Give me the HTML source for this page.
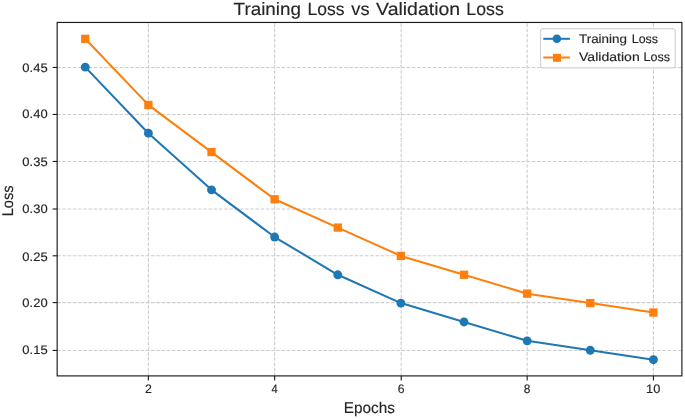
<!DOCTYPE html>
<html><head><meta charset="utf-8"><style>
html,body{margin:0;padding:0;background:#fff;}
body{width:685px;height:419px;overflow:hidden;}
svg{display:block;will-change:transform;}
text{text-rendering:geometricPrecision;font-family:"Liberation Sans", sans-serif;fill:#262626;stroke:#262626;stroke-width:0.15px;}
</style></head><body>
<svg width="685" height="419" viewBox="0 0 685 419">
<rect x="0" y="0" width="685" height="419" fill="#fff"/>
<line x1="148.38" y1="375.9" x2="148.38" y2="22.45" stroke="#cdcdcd" stroke-width="1.1" stroke-dasharray="3.642 1.575" stroke-dashoffset="0.6"/>
<line x1="274.63" y1="375.9" x2="274.63" y2="22.45" stroke="#cdcdcd" stroke-width="1.1" stroke-dasharray="3.642 1.575" stroke-dashoffset="0.6"/>
<line x1="401.20" y1="375.9" x2="401.20" y2="22.45" stroke="#cdcdcd" stroke-width="1.1" stroke-dasharray="3.642 1.575" stroke-dashoffset="0.6"/>
<line x1="527.15" y1="375.9" x2="527.15" y2="22.45" stroke="#cdcdcd" stroke-width="1.1" stroke-dasharray="3.642 1.575" stroke-dashoffset="0.6"/>
<line x1="653.45" y1="375.9" x2="653.45" y2="22.45" stroke="#cdcdcd" stroke-width="1.1" stroke-dasharray="3.642 1.575" stroke-dashoffset="0.6"/>
<line x1="57.15" y1="350.45" x2="681.9" y2="350.45" stroke="#cdcdcd" stroke-width="1.1" stroke-dasharray="3.642 1.575"/>
<line x1="57.15" y1="302.60" x2="681.9" y2="302.60" stroke="#cdcdcd" stroke-width="1.1" stroke-dasharray="3.642 1.575"/>
<line x1="57.15" y1="255.80" x2="681.9" y2="255.80" stroke="#cdcdcd" stroke-width="1.1" stroke-dasharray="3.642 1.575"/>
<line x1="57.15" y1="209.00" x2="681.9" y2="209.00" stroke="#cdcdcd" stroke-width="1.1" stroke-dasharray="3.642 1.575"/>
<line x1="57.15" y1="161.45" x2="681.9" y2="161.45" stroke="#cdcdcd" stroke-width="1.1" stroke-dasharray="3.642 1.575"/>
<line x1="57.15" y1="114.45" x2="681.9" y2="114.45" stroke="#cdcdcd" stroke-width="1.1" stroke-dasharray="3.642 1.575"/>
<line x1="57.15" y1="67.45" x2="681.9" y2="67.45" stroke="#cdcdcd" stroke-width="1.1" stroke-dasharray="3.642 1.575"/>
<polyline points="85.25,67.14 148.38,133.21 211.51,189.84 274.64,237.03 337.77,274.78 400.90,303.09 464.03,321.97 527.16,340.84 590.29,350.28 653.42,359.72" fill="none" stroke="#1f77b4" stroke-width="2.05" stroke-linejoin="round"/>
<circle cx="85.25" cy="67.14" r="4.45" fill="#1f77b4"/>
<circle cx="148.38" cy="133.21" r="4.45" fill="#1f77b4"/>
<circle cx="211.51" cy="189.84" r="4.45" fill="#1f77b4"/>
<circle cx="274.64" cy="237.03" r="4.45" fill="#1f77b4"/>
<circle cx="337.77" cy="274.78" r="4.45" fill="#1f77b4"/>
<circle cx="400.90" cy="303.09" r="4.45" fill="#1f77b4"/>
<circle cx="464.03" cy="321.97" r="4.45" fill="#1f77b4"/>
<circle cx="527.16" cy="340.84" r="4.45" fill="#1f77b4"/>
<circle cx="590.29" cy="350.28" r="4.45" fill="#1f77b4"/>
<circle cx="653.42" cy="359.72" r="4.45" fill="#1f77b4"/>
<polyline points="85.25,38.83 148.38,104.90 211.51,152.09 274.64,199.28 337.77,227.59 400.90,255.90 464.03,274.78 527.16,293.65 590.29,303.09 653.42,312.53" fill="none" stroke="#ff7f0e" stroke-width="2.05" stroke-linejoin="round"/>
<rect x="81.10" y="34.68" width="8.3" height="8.3" fill="#ff7f0e"/>
<rect x="144.23" y="100.75" width="8.3" height="8.3" fill="#ff7f0e"/>
<rect x="207.36" y="147.94" width="8.3" height="8.3" fill="#ff7f0e"/>
<rect x="270.49" y="195.13" width="8.3" height="8.3" fill="#ff7f0e"/>
<rect x="333.62" y="223.44" width="8.3" height="8.3" fill="#ff7f0e"/>
<rect x="396.75" y="251.75" width="8.3" height="8.3" fill="#ff7f0e"/>
<rect x="459.88" y="270.63" width="8.3" height="8.3" fill="#ff7f0e"/>
<rect x="523.01" y="289.50" width="8.3" height="8.3" fill="#ff7f0e"/>
<rect x="586.14" y="298.94" width="8.3" height="8.3" fill="#ff7f0e"/>
<rect x="649.27" y="308.38" width="8.3" height="8.3" fill="#ff7f0e"/>
<rect x="57.15" y="22.45" width="624.75" height="353.45" fill="none" stroke="#1a1a1a" stroke-width="1.15"/>
<line x1="148.38" y1="375.9" x2="148.38" y2="380.5" stroke="#1a1a1a" stroke-width="1.1"/>
<line x1="274.63" y1="375.9" x2="274.63" y2="380.5" stroke="#1a1a1a" stroke-width="1.1"/>
<line x1="401.20" y1="375.9" x2="401.20" y2="380.5" stroke="#1a1a1a" stroke-width="1.1"/>
<line x1="527.15" y1="375.9" x2="527.15" y2="380.5" stroke="#1a1a1a" stroke-width="1.1"/>
<line x1="653.45" y1="375.9" x2="653.45" y2="380.5" stroke="#1a1a1a" stroke-width="1.1"/>
<line x1="52.65" y1="350.45" x2="57.15" y2="350.45" stroke="#1a1a1a" stroke-width="1.1"/>
<line x1="52.65" y1="302.60" x2="57.15" y2="302.60" stroke="#1a1a1a" stroke-width="1.1"/>
<line x1="52.65" y1="255.80" x2="57.15" y2="255.80" stroke="#1a1a1a" stroke-width="1.1"/>
<line x1="52.65" y1="209.00" x2="57.15" y2="209.00" stroke="#1a1a1a" stroke-width="1.1"/>
<line x1="52.65" y1="161.45" x2="57.15" y2="161.45" stroke="#1a1a1a" stroke-width="1.1"/>
<line x1="52.65" y1="114.45" x2="57.15" y2="114.45" stroke="#1a1a1a" stroke-width="1.1"/>
<line x1="52.65" y1="67.45" x2="57.15" y2="67.45" stroke="#1a1a1a" stroke-width="1.1"/>
<text x="144.97" y="393.30" font-size="12.3" textLength="6.83" lengthAdjust="spacingAndGlyphs">2</text>
<text x="271.57" y="393.30" font-size="12.3" textLength="6.18" lengthAdjust="spacingAndGlyphs">4</text>
<text x="397.78" y="393.30" font-size="12.3" textLength="6.76" lengthAdjust="spacingAndGlyphs">6</text>
<text x="523.84" y="393.30" font-size="12.3" textLength="6.63" lengthAdjust="spacingAndGlyphs">8</text>
<text x="646.07" y="393.30" font-size="12.3" textLength="14.28" lengthAdjust="spacingAndGlyphs">10</text>
<text x="22.39" y="354.10" font-size="12.3" textLength="25.25" lengthAdjust="spacingAndGlyphs">0.15</text>
<text x="22.39" y="307.25" font-size="12.3" textLength="25.21" lengthAdjust="spacingAndGlyphs">0.20</text>
<text x="22.39" y="260.75" font-size="12.3" textLength="25.25" lengthAdjust="spacingAndGlyphs">0.25</text>
<text x="22.39" y="213.20" font-size="12.3" textLength="25.21" lengthAdjust="spacingAndGlyphs">0.30</text>
<text x="22.39" y="165.65" font-size="12.3" textLength="25.25" lengthAdjust="spacingAndGlyphs">0.35</text>
<text x="22.39" y="118.20" font-size="12.3" textLength="25.21" lengthAdjust="spacingAndGlyphs">0.40</text>
<text x="22.39" y="71.65" font-size="12.3" textLength="25.25" lengthAdjust="spacingAndGlyphs">0.45</text>
<text x="343.84" y="413.00" font-size="15.5" textLength="51.12" lengthAdjust="spacingAndGlyphs">Epochs</text>
<g transform="translate(12.9,215.4) rotate(-90)"><text x="-0.90" y="0.00" font-size="15.5" textLength="30.93" lengthAdjust="spacingAndGlyphs">Loss</text></g>
<text x="233.59" y="14.60" font-size="17.8" textLength="67.42" lengthAdjust="spacingAndGlyphs">Training</text>
<text x="307.56" y="14.60" font-size="17.8" textLength="36.97" lengthAdjust="spacingAndGlyphs">Loss</text>
<text x="351.33" y="14.60" font-size="17.8" textLength="18.23" lengthAdjust="spacingAndGlyphs">vs</text>
<text x="376.10" y="14.60" font-size="17.8" textLength="84.06" lengthAdjust="spacingAndGlyphs">Validation</text>
<text x="466.35" y="14.60" font-size="17.8" textLength="37.39" lengthAdjust="spacingAndGlyphs">Loss</text>
<rect x="540.5" y="28.6" width="134.8" height="39.3" rx="3" ry="3" fill="#fff" fill-opacity="0.8" stroke="#d4d4d4" stroke-width="1.2"/>
<line x1="543.3" y1="38.8" x2="569.9" y2="38.8" stroke="#1f77b4" stroke-width="2.0"/>
<circle cx="556.9" cy="38.8" r="4.3" fill="#1f77b4"/>
<line x1="543.3" y1="57.5" x2="569.9" y2="57.5" stroke="#ff7f0e" stroke-width="2.0"/>
<rect x="553.0" y="53.8" width="8.0" height="8.0" fill="#ff7f0e"/>
<text x="579.00" y="42.90" font-size="12.2" textLength="47.95" lengthAdjust="spacingAndGlyphs">Training</text>
<text x="631.78" y="42.90" font-size="12.2" textLength="26.27" lengthAdjust="spacingAndGlyphs">Loss</text>
<text x="579.03" y="61.20" font-size="12.2" textLength="60.68" lengthAdjust="spacingAndGlyphs">Validation</text>
<text x="643.57" y="61.20" font-size="12.2" textLength="26.54" lengthAdjust="spacingAndGlyphs">Loss</text>
</svg>
</body></html>
